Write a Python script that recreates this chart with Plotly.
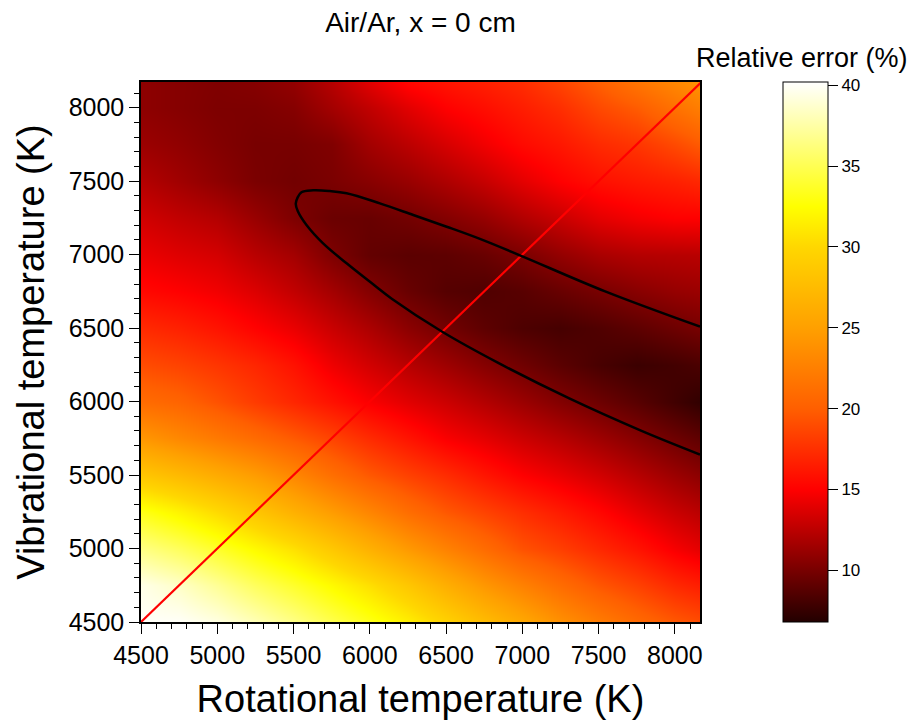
import plotly.graph_objects as go

rot_temp = [4500, 4750, 5000, 5250, 5500, 5750, 6000, 6250, 6500, 6750, 7000, 7250, 7500, 7750, 8000, 8170]
vib_temp = [4500, 4750, 5000, 5250, 5500, 5750, 6000, 6250, 6500, 6750, 7000, 7250, 7500, 7750, 8000, 8170]

# Relative error (%): one list per vibrational temperature, values along rotational temperature
err_v4500 = [40.0, 40.0, 39.3, 38.0, 36.5, 34.8, 33.2, 31.5, 29.5, 27.5, 25.7, 23.8, 22.2, 20.8, 19.6, 19.0]
err_v4750 = [39.5, 38.5, 37.0, 35.3, 33.8, 32.2, 30.5, 28.5, 26.3, 24.3, 22.6, 21.0, 19.5, 18.4, 17.1, 16.5]
err_v5000 = [36.5, 35.3, 33.8, 32.2, 30.6, 28.6, 26.5, 24.5, 22.7, 21.0, 19.3, 18.3, 17.1, 16.0, 14.7, 14.0]
err_v5250 = [33.2, 31.8, 30.2, 28.4, 26.5, 24.7, 22.9, 21.1, 19.6, 18.5, 17.4, 16.4, 15.3, 14.1, 13.0, 12.4]
err_v5500 = [28.5, 27.3, 26.0, 24.7, 23.0, 21.2, 19.6, 18.4, 17.3, 16.1, 15.0, 14.2, 13.3, 12.3, 11.3, 10.7]
err_v5750 = [24.3, 23.1, 22.0, 20.9, 19.7, 18.5, 17.2, 16.0, 14.8, 14.0, 13.1, 12.3, 11.4, 10.5, 9.6, 9.0]
err_v6000 = [21.0, 20.4, 19.3, 18.1, 17.0, 15.9, 14.8, 13.9, 13.1, 12.2, 11.3, 10.4, 9.6, 8.8, 7.9, 7.3]
err_v6250 = [19.0, 18.5, 17.8, 17.0, 15.9, 14.4, 13.3, 12.3, 11.4, 10.5, 9.7, 8.9, 8.2, 7.7, 8.0, 8.3]
err_v6500 = [17.2, 16.7, 16.0, 15.1, 14.2, 13.0, 11.9, 10.7, 9.8, 9.0, 8.4, 8.1, 8.5, 9.0, 9.6, 10.0]
err_v6750 = [15.4, 15.0, 14.5, 13.7, 12.7, 11.6, 10.4, 9.4, 8.7, 8.5, 8.8, 9.4, 10.0, 10.6, 11.1, 11.3]
err_v7000 = [14.3, 13.8, 13.4, 12.4, 11.6, 10.2, 9.2, 8.9, 9.0, 9.4, 10.1, 11.0, 11.8, 12.2, 12.3, 12.4]
err_v7250 = [13.3, 12.7, 12.2, 11.2, 10.2, 9.5, 9.4, 9.8, 10.4, 11.1, 12.1, 13.0, 14.0, 14.6, 15.0, 15.0]
err_v7500 = [12.2, 11.5, 10.8, 10.1, 9.8, 10.1, 10.6, 11.2, 12.0, 12.9, 14.0, 15.0, 15.8, 16.3, 16.7, 17.1]
err_v7750 = [11.3, 10.9, 10.4, 10.0, 10.0, 10.3, 11.6, 12.5, 13.5, 14.5, 15.5, 16.2, 17.2, 17.8, 18.9, 19.8]
err_v8000 = [10.8, 10.5, 10.2, 10.2, 10.5, 11.6, 12.7, 13.9, 15.0, 15.7, 16.5, 17.4, 18.8, 19.8, 21.4, 22.4]
err_v8170 = [10.8, 10.5, 10.3, 10.5, 11.0, 12.3, 13.9, 15.3, 16.0, 16.6, 17.3, 18.5, 20.0, 21.6, 23.0, 23.9]

# Black iso-line of the error map
contour_rot = [8165, 7543, 6992, 6722, 6504, 6285, 6066, 5848, 5738, 5629, 5552, 5515,
               5530, 5585, 5694, 5848, 6022, 6144, 6475, 6839, 7308, 7778, 8165]
contour_vib = [6510, 6750, 6992, 7107, 7190, 7270, 7349, 7418, 7433, 7438, 7424, 7349,
               7292, 7202, 7077, 6941, 6798, 6700, 6475, 6265, 6022, 5803, 5640]

# Equality line Trot = Tvib
diag_rot = [4500, 8170]
diag_vib = [4500, 8170]

cbar_ticks = [10, 15, 20, 25, 30, 35, 40]
axis_ticks = [4500, 5000, 5500, 6000, 6500, 7000, 7500, 8000]

z = [err_v4500, err_v4750, err_v5000, err_v5250, err_v5500, err_v5750, err_v6000, err_v6250,
     err_v6500, err_v6750, err_v7000, err_v7250, err_v7500, err_v7750, err_v8000, err_v8170]

zmin, zmax = 6.8, 40.2
def f(v):
    return (v - zmin) / (zmax - zmin)

colorscale = [
    [0.0, "rgb(35,0,0)"],
    [f(10), "rgb(120,0,0)"],
    [f(15), "rgb(255,0,0)"],
    [f(20), "rgb(255,95,0)"],
    [f(25), "rgb(255,160,0)"],
    [f(30), "rgb(255,215,0)"],
    [f(32.5), "rgb(255,255,0)"],
    [1.0, "rgb(255,255,255)"],
]

FONT = "Liberation Sans, Arial, Helvetica, sans-serif"

fig = go.Figure()
fig.add_trace(go.Heatmap(
    x=rot_temp, y=vib_temp, z=z, zsmooth="best",
    colorscale=colorscale, zmin=zmin, zmax=zmax,
    colorbar=dict(
        x=1.1485, xanchor="left", xpad=0,
        y=0, yanchor="bottom", ypad=0,
        len=1.0, lenmode="fraction", thickness=45,
        outlinecolor="black", outlinewidth=1,
        ticks="outside", ticklen=10, tickwidth=1, tickcolor="black",
        tickvals=cbar_ticks, tickfont=dict(size=17, color="black", family=FONT),
    ),
    hoverinfo="skip",
))
fig.add_trace(go.Scatter(
    x=diag_rot, y=diag_vib, mode="lines",
    line=dict(color="rgb(255,0,0)", width=2.2), showlegend=False, hoverinfo="skip",
))
fig.add_trace(go.Scatter(
    x=contour_rot, y=contour_vib, mode="lines",
    line=dict(color="black", width=2.5, shape="spline", smoothing=1.0),
    showlegend=False, hoverinfo="skip",
))

axis_common = dict(
    tickvals=axis_ticks, ticks="outside", ticklen=10, tickwidth=1, tickcolor="black",
    showline=True, linecolor="black", linewidth=1.5, mirror=True,
    showgrid=False, zeroline=False,
    tickfont=dict(size=25, color="black", family=FONT),
    minor=dict(dtick=100, ticks="outside", ticklen=5, tickwidth=1, tickcolor="black", showgrid=False),
)

fig.update_layout(
    width=915, height=726,
    margin=dict(l=141, r=215, t=82, b=104),
    paper_bgcolor="white", plot_bgcolor="white",
    font=dict(family=FONT, color="black"),
    title=dict(text="Air/Ar, x = 0 cm", x=0.4595, xanchor="center", y=0.97, yanchor="middle",
               font=dict(size=28, color="black", family=FONT)),
    xaxis=dict(range=[4500, 8165], title=dict(text="Rotational temperature (K)",
               font=dict(size=38, family=FONT), standoff=18), **axis_common),
    yaxis=dict(range=[4500, 8175], title=dict(text="Vibrational temperature (K)",
               font=dict(size=38, family=FONT), standoff=12), **axis_common),
    showlegend=False,
    annotations=[dict(text="Relative error (%)", xref="paper", yref="paper",
                      x=1.3757, y=1.044, xanchor="right", yanchor="middle",
                      showarrow=False, font=dict(size=27, color="black", family=FONT))],
)

fig.write_html("out.html", config={"displayModeBar": False},
               post_script="document.body.style.margin='0px';")
